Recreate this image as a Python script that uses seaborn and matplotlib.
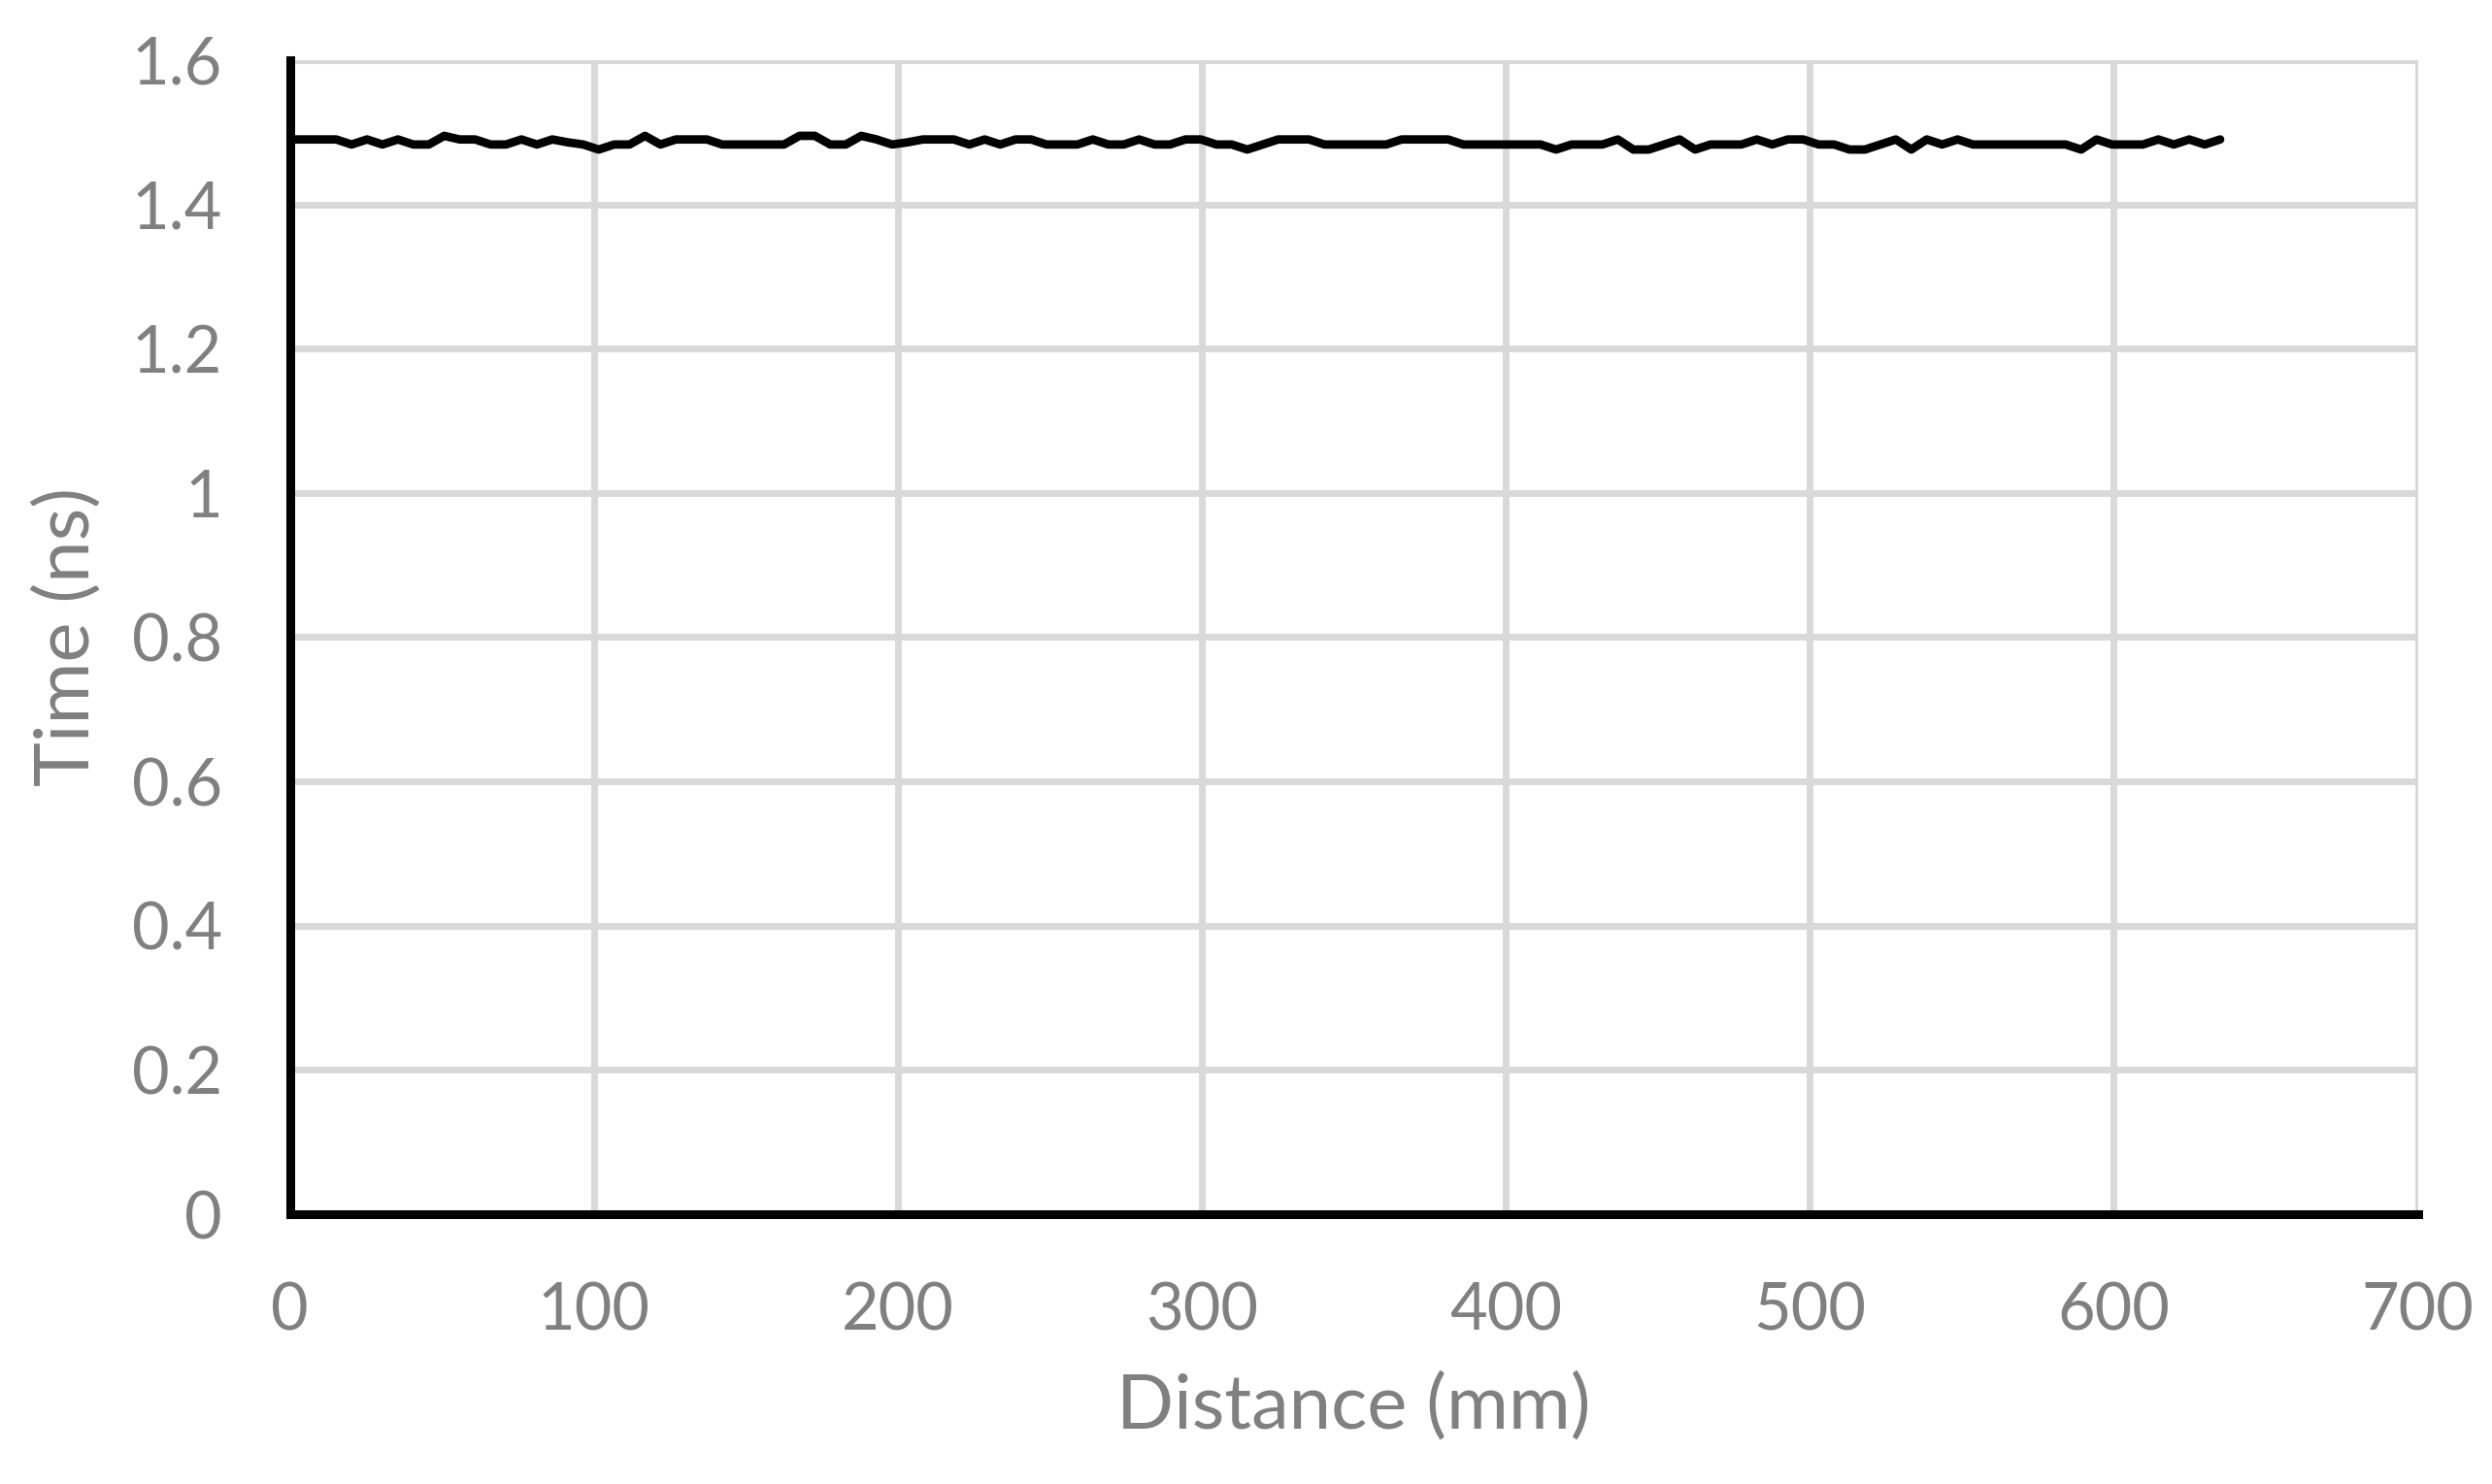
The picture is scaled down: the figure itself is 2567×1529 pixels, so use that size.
import numpy as np
import pandas as pd
import matplotlib
matplotlib.use("Agg")
import matplotlib.pyplot as plt
import seaborn as sns

# time of flight (ns), one sample every 0.2 in
time_ns = [
    1.49, 1.49, 1.49, 1.49, 1.483, 1.49, 1.483, 1.49, 1.483, 1.483,
    1.495, 1.49, 1.49, 1.483, 1.483, 1.49, 1.483, 1.49, 1.486, 1.483,
    1.476, 1.483, 1.483, 1.495, 1.483, 1.49, 1.49, 1.49, 1.483, 1.483,
    1.483, 1.483, 1.483, 1.495, 1.495, 1.483, 1.483, 1.495, 1.49, 1.483,
    1.486, 1.49, 1.49, 1.49, 1.483, 1.49, 1.483, 1.49, 1.49, 1.483,
    1.483, 1.483, 1.49, 1.483, 1.483, 1.49, 1.483, 1.483, 1.49, 1.49,
    1.483, 1.483, 1.476, 1.483, 1.49, 1.49, 1.49, 1.483, 1.483, 1.483,
    1.483, 1.483, 1.49, 1.49, 1.49, 1.49, 1.483, 1.483, 1.483, 1.483,
    1.483, 1.483, 1.476, 1.483, 1.483, 1.483, 1.49, 1.476, 1.476, 1.483,
    1.49, 1.476, 1.483, 1.483, 1.483, 1.49, 1.483, 1.49, 1.49, 1.483,
    1.483, 1.476, 1.476, 1.483, 1.49, 1.476, 1.49, 1.483, 1.49, 1.483,
    1.483, 1.483, 1.483, 1.483, 1.483, 1.483, 1.476, 1.49, 1.483, 1.483,
    1.483, 1.49, 1.483, 1.49, 1.483, 1.49,
]
step_mm = 5.08
distance_mm = np.round(np.arange(len(time_ns)) * step_mm, 2)

x_ticks = [0, 100, 200, 300, 400, 500, 600, 700]
y_ticks = [0, 0.2, 0.4, 0.6, 0.8, 1.0, 1.2, 1.4, 1.6]
y_ticklabels = ["0", "0.2", "0.4", "0.6", "0.8", "1", "1.2", "1.4", "1.6"]

df = pd.DataFrame({"Distance (mm)": distance_mm, "Time (ns)": time_ns})

sns.set_theme(style="white")
plt.rcParams["font.family"] = ["Lato", "DejaVu Sans"]

GREY = "#808080"
GRID = "#d9d9d9"

fig, ax = plt.subplots(figsize=(25.67, 15.29), dpi=100)
fig.subplots_adjust(left=0.1163, right=0.9702, top=0.9595, bottom=0.1818)

sns.lineplot(data=df, x="Distance (mm)", y="Time (ns)", ax=ax, color="black",
             linewidth=6.3, estimator=None, sort=False,
             solid_joinstyle="round", solid_capstyle="round", zorder=3)

ax.set_xlim(0, 700)
ax.set_ylim(0, 1.6)
ax.set_xticks(x_ticks)
ax.set_yticks(y_ticks)
ax.set_yticklabels(y_ticklabels)

ax.grid(True, color=GRID, linewidth=5)
ax.set_axisbelow(True)

for side in ["top", "right"]:
    ax.spines[side].set_visible(False)
for side in ["left", "bottom"]:
    ax.spines[side].set_color("black")
    ax.spines[side].set_linewidth(6.5)
    ax.spines[side].set_zorder(4)

ax.tick_params(axis="both", length=0, labelsize=48, labelcolor=GREY)
ax.tick_params(axis="x", pad=50)
ax.tick_params(axis="y", pad=50)

ax.set_xlabel("Distance (mm)", fontsize=56, color=GREY)
ax.set_ylabel("Time (ns)", fontsize=56, color=GREY)
ax.xaxis.set_label_coords(0.5, -0.137)
ax.yaxis.set_label_coords(-0.088, 0.5)

fig.savefig("out.png", dpi=100)
